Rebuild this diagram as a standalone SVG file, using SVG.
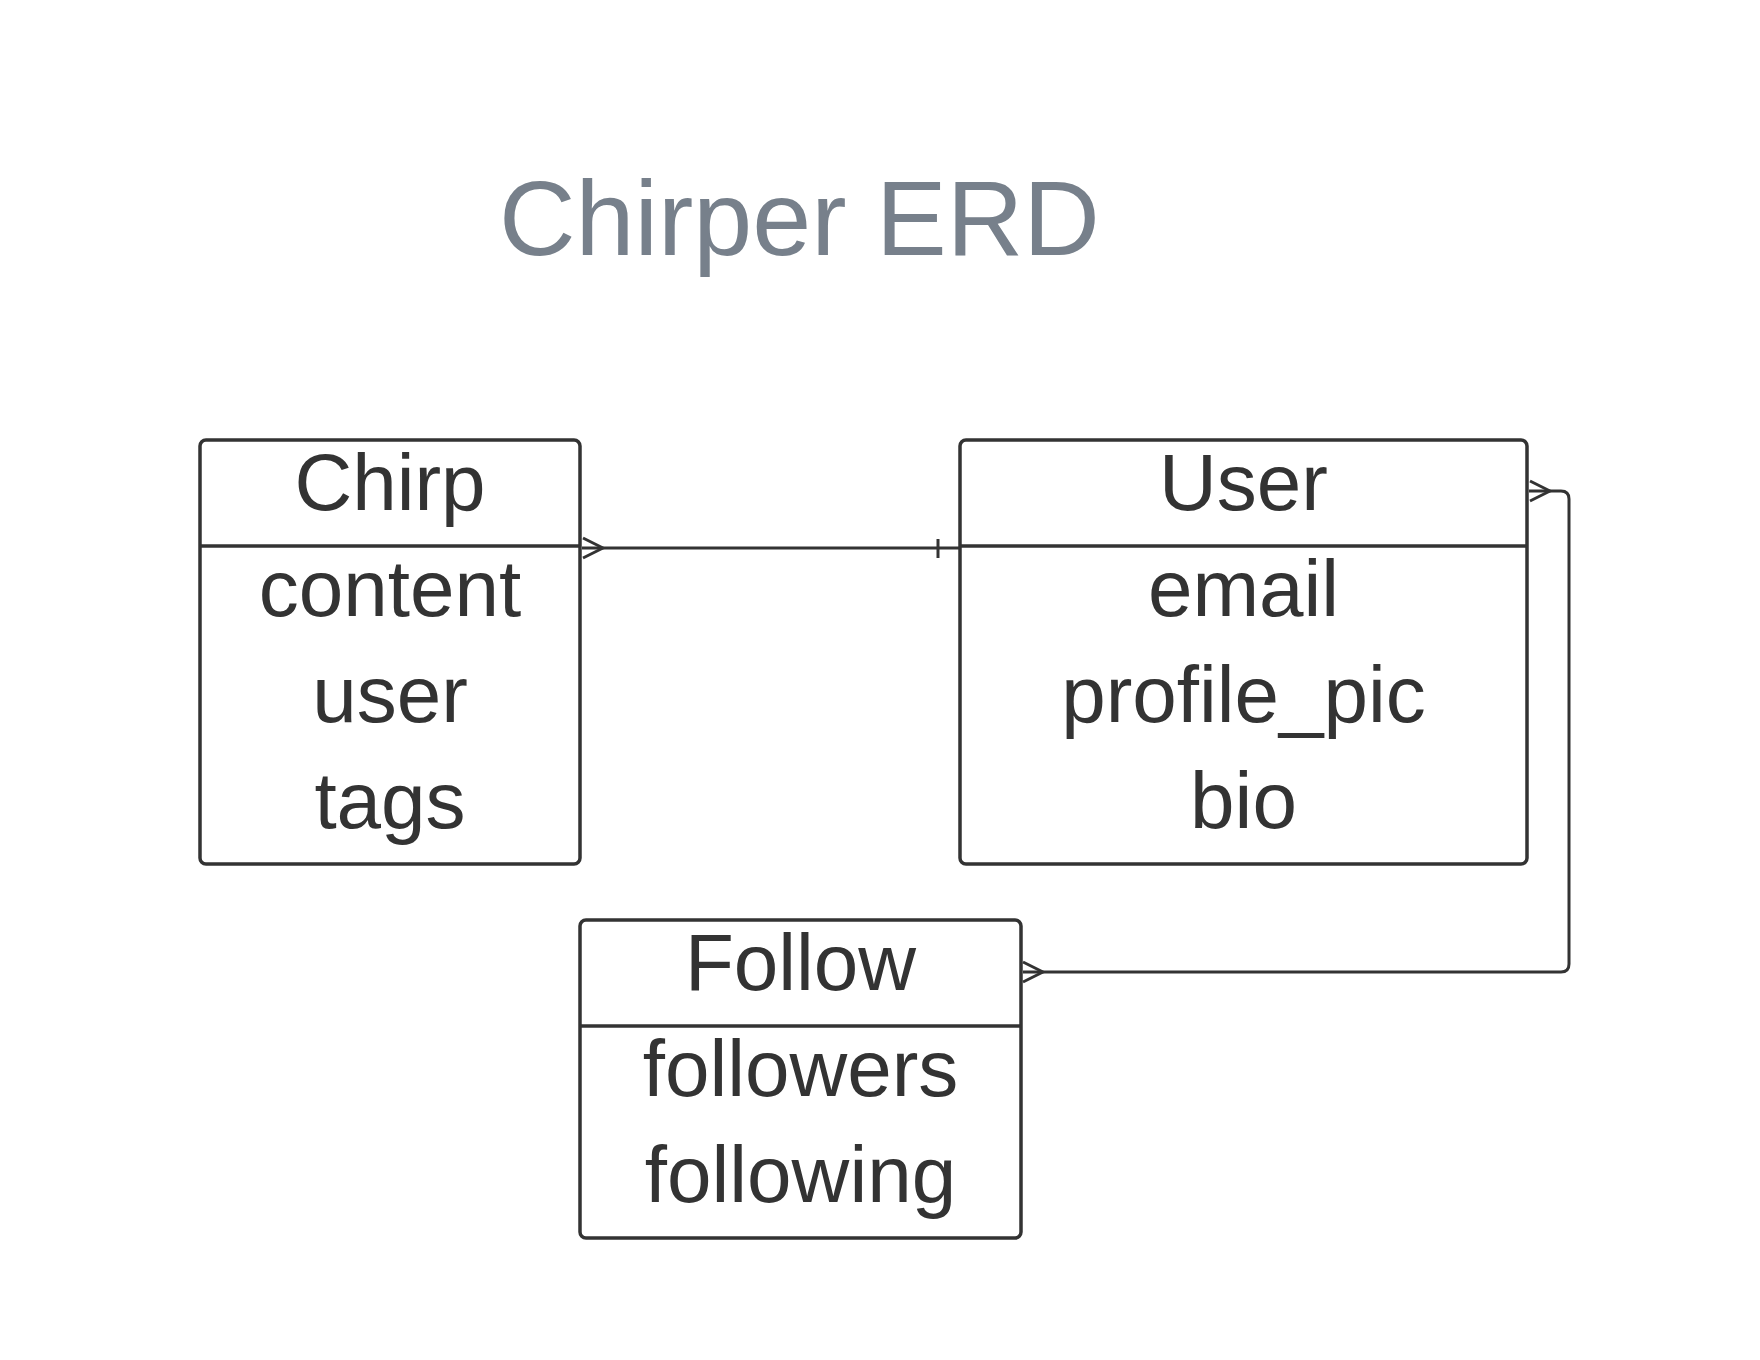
<svg xmlns="http://www.w3.org/2000/svg" width="1760" height="1360" viewBox="0 0 1760 1360">
<style>
.box{fill:#ffffff;stroke:#333333;stroke-width:3.5}
.div{stroke:#333333;stroke-width:3.5}
.t{font-family:"Liberation Sans",Arial,sans-serif;font-size:80px;fill:#333333;text-anchor:middle}
.title{font-family:"Liberation Sans",Arial,sans-serif;font-size:106px;fill:#77808b}
.c{fill:none;stroke:#333333;stroke-width:3;stroke-linejoin:round}
</style>
<rect width="1760" height="1360" fill="#ffffff"/>
<text class="title" x="499" y="255">Chirper ERD</text>
<g id="chirp">
<rect class="box" x="200" y="440" width="380" height="424" rx="6"/>
<line class="div" x1="200" y1="546" x2="580" y2="546"/>
<text class="t" x="390" y="510">Chirp</text>
<text class="t" x="390" y="616">content</text>
<text class="t" x="390" y="722">user</text>
<text class="t" x="390" y="828">tags</text>
</g>
<g id="user">
<rect class="box" x="960" y="440" width="567" height="424" rx="6"/>
<line class="div" x1="960" y1="546" x2="1527" y2="546"/>
<text class="t" x="1243.5" y="510">User</text>
<text class="t" x="1243.5" y="616">email</text>
<text class="t" x="1243.5" y="722">profile_pic</text>
<text class="t" x="1243.5" y="828">bio</text>
</g>
<g id="follow">
<rect class="box" x="580" y="920" width="441" height="318" rx="6"/>
<line class="div" x1="580" y1="1026" x2="1021" y2="1026"/>
<text class="t" x="800.5" y="990">Follow</text>
<text class="t" x="800.5" y="1096">followers</text>
<text class="t" x="800.5" y="1202">following</text>
</g>
<g id="connectors">
<path class="c" d="M582 548 L960 548"/>
<path class="c" d="M583 538 L603 548 L583 558"/>
<path class="c" d="M938 539 L938 558"/>
<path class="c" d="M1529 491 L1561 491 Q1569 491 1569 499 L1569 964 Q1569 972 1561 972 L1023 972"/>
<path class="c" d="M1530 481 L1550 491 L1530 501"/>
<path class="c" d="M1023 962 L1043 972 L1023 982"/>
</g>
</svg>
